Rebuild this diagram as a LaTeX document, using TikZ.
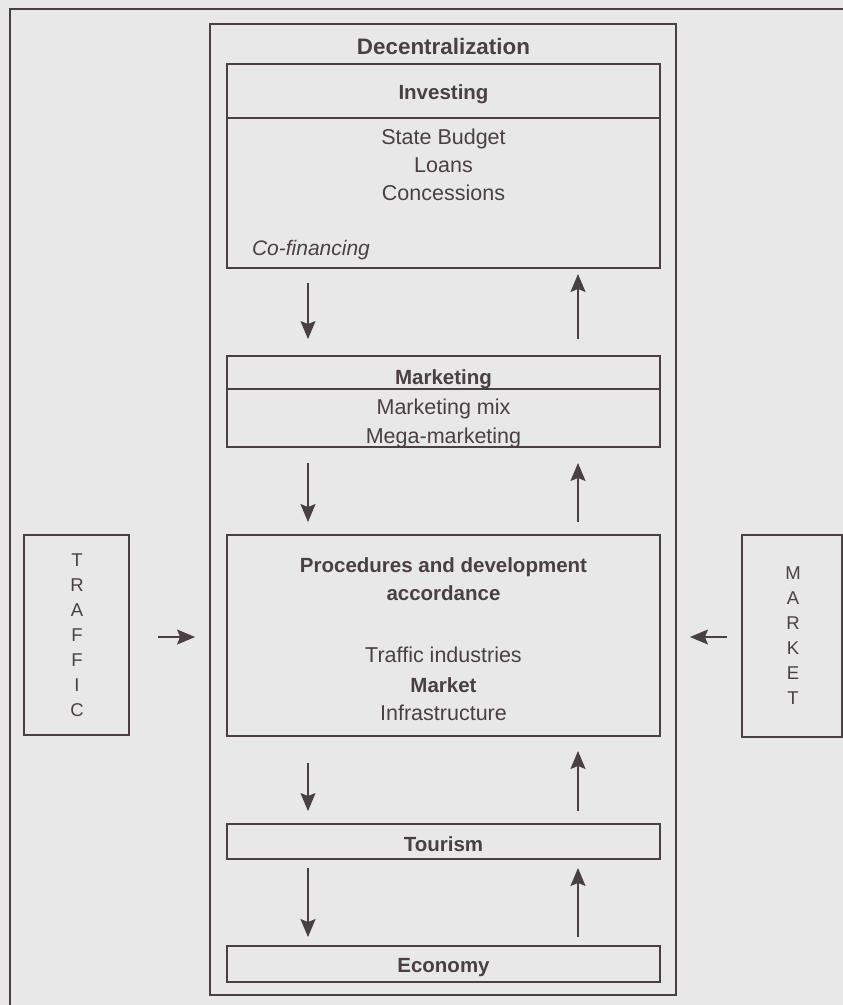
\documentclass[tikz,border=0pt]{standalone}
\usepackage{fontspec}
\setmainfont{Liberation Sans}
\usetikzlibrary{calc,arrows.meta}
\definecolor{bg}{HTML}{E8E8E9}
\definecolor{ink}{HTML}{4A4044}
\begin{document}
\begin{tikzpicture}[x=1pt,y=-1pt,
  boxnode/.style={draw=ink, line width=1.9pt, inner sep=0pt, anchor=center},
  lbl/.style={text=ink, inner sep=0pt, text height=15pt, text depth=0pt, anchor=center, font=\fontsize{21.5}{25}\selectfont},
  hd/.style={lbl, font=\bfseries\fontsize{20.5}{25}\selectfont},
  it/.style={lbl, font=\itshape\fontsize{21}{25}\selectfont},
  arr/.style={draw=ink, line width=1.6pt, -{Stealth[length=18pt,width=15pt,inset=3pt]}},
  letters/.style={text=ink, align=center, inner sep=0pt, font=\fontsize{18.5}{25}\selectfont},
  divline/.style={draw=ink, line width=1.9pt}]
\useasboundingbox (0,0) rectangle (843,1005);
\fill[bg] (0,0) rectangle (843,1005);
% outer frame
\draw[divline, line join=miter] (10,1005) -- (10,9) -- (843,9);
% boxes
\node[boxnode, minimum width=466pt, minimum height=971pt] (decent) at (443,509.5) {};
\node[boxnode, minimum width=433pt, minimum height=204pt] (invest) at (443.5,166) {};
\node[boxnode, minimum width=433pt, minimum height=91pt] (mktg) at (443.5,401.5) {};
\node[boxnode, minimum width=433pt, minimum height=201pt] (proc) at (443.5,635.5) {};
\node[boxnode, minimum width=433pt, minimum height=35pt] (tour) at (443.5,841.5) {};
\node[boxnode, minimum width=433pt, minimum height=36pt] (econ) at (443.5,964) {};
\node[boxnode, minimum width=105pt, minimum height=200pt] (traffic) at (76.5,635) {};
\node[boxnode, minimum width=100pt, minimum height=202pt] (mkt) at (792,636) {};
% dividers
\draw[divline] ($(invest.north west)+(0,55)$) -- ($(invest.north east)+(0,55)$);
\draw[divline] ($(mktg.north west)+(0,34)$) -- ($(mktg.north east)+(0,34)$);
% texts
\node[hd, font=\bfseries\fontsize{22.4}{26}\selectfont] (tdec) at (443.5,47) {Decentralization};
\node[hd] (tinv) at (443.5,92) {Investing};
\node[lbl] (tsb) at (443.5,137) {State Budget};
\node[lbl] (tlo) at (443.5,165) {Loans};
\node[lbl] (tco) at (443.5,193) {Concessions};
\node[it] (tcf) at (311,248) {Co-financing};
\node[hd] (tmk) at (443.5,377) {Marketing};
\node[lbl] (tmm) at (443.5,407) {Marketing mix};
\node[lbl] (tmg) at (443.5,436) {Mega-marketing};
\node[hd] (tpr) at (443.5,565) {Procedures and development};
\node[hd] (tac) at (443.5,593) {accordance};
\node[lbl] (tti) at (443.5,655) {Traffic industries};
\node[hd] (tma) at (443.5,685) {Market};
\node[lbl] (tin) at (443.5,713) {Infrastructure};
\node[hd] (ttou) at (443.5,844) {Tourism};
\node[hd] (teco) at (443.5,965) {Economy};
\node[letters] (tl) at (77,635) {T\\R\\A\\F\\F\\I\\C};
\node[letters] (ml) at (793,636) {M\\A\\R\\K\\E\\T};
% arrows
\coordinate (dx) at (308,0);
\coordinate (ux) at (578,0);
\draw[arr] ($(invest.south -| dx)+(0,14)$) -- ($(mktg.north -| dx)+(0,-16)$);
\draw[arr] ($(mktg.north -| ux)+(0,-16)$) -- ($(invest.south -| ux)+(0,5)$);
\draw[arr] ($(mktg.south -| dx)+(0,15)$) -- ($(proc.north -| dx)+(0,-12)$);
\draw[arr] ($(proc.north -| ux)+(0,-12)$) -- ($(mktg.south -| ux)+(0,15)$);
\draw[arr] ($(proc.south -| dx)+(0,26)$) -- ($(tour.north -| dx)+(0,-12)$);
\draw[arr] ($(tour.north -| ux)+(0,-12)$) -- ($(proc.south -| ux)+(0,14)$);
\draw[arr] ($(tour.south -| dx)+(0,8)$) -- ($(econ.north -| dx)+(0,-8)$);
\draw[arr] ($(econ.north -| ux)+(0,-8)$) -- ($(tour.south -| ux)+(0,8)$);
\draw[arr] ($(traffic.east)+(28,2)$) -- ($(decent.west |- traffic.east)+(-14,2)$);
\draw[arr] ($(mkt.west)+(-14,1)$) -- ($(decent.east |- mkt.west)+(13,1)$);
\end{tikzpicture}
\end{document}
